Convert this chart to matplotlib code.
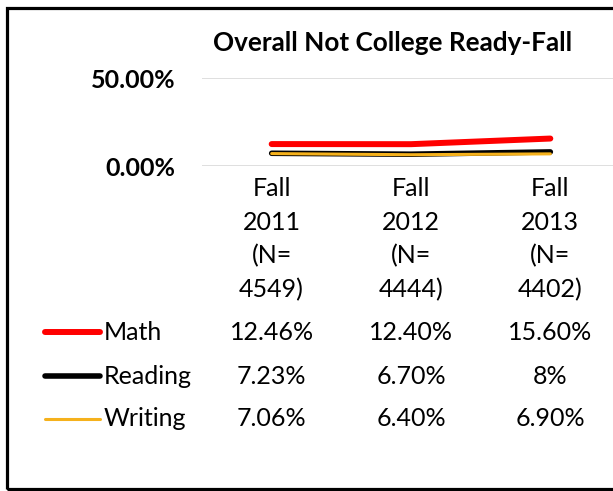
import matplotlib
matplotlib.use("Agg")
import matplotlib.pyplot as plt
from matplotlib.patches import Rectangle
from matplotlib.lines import Line2D
from matplotlib.transforms import blended_transform_factory

plt.rcParams['font.family'] = ['Lato', 'DejaVu Sans']

# ---- data ----
title = "Overall Not College Ready-Fall"
categories = ["Fall\n2011\n(N=\n4549)", "Fall\n2012\n(N=\n4444)", "Fall\n2013\n(N=\n4402)"]
series_names = ["Math", "Reading", "Writing"]
math = [0.1246, 0.1240, 0.1560]
reading = [0.0723, 0.0670, 0.08]
writing = [0.0706, 0.0640, 0.0690]
table_math = ["12.46%", "12.40%", "15.60%"]
table_reading = ["7.23%", "6.70%", "8%"]
table_writing = ["7.06%", "6.40%", "6.90%"]
yticks = [0.0, 0.5]
ytick_labels = ["0.00%", "50.00%"]

colors = {"Math": "#FF0000", "Reading": "#000000", "Writing": "#F5B11C"}
widths = {"Math": 4.3, "Reading": 4.0, "Writing": 2.2}

W, H = 613, 491
fig = plt.figure(figsize=(W / 100, H / 100), dpi=100)
FS = 18

def fy(py):
    return (H - py) / H

def fx(px):
    return px / W

# plot area
left_px, right_px, top_px, bot_px = 202, 620, 78, 166
ax = fig.add_axes([fx(left_px), fy(bot_px), fx(right_px - left_px), (bot_px - top_px) / H])
x = list(range(len(categories)))
ax.plot(x, math, color=colors["Math"], lw=widths["Math"], solid_capstyle='round', zorder=3)
ax.plot(x, reading, color=colors["Reading"], lw=widths["Reading"], solid_capstyle='round', zorder=3)
ax.plot(x, writing, color=colors["Writing"], lw=widths["Writing"], solid_capstyle='round', zorder=4)
ax.set_xlim(-0.5, len(categories) - 0.5)
ax.set_ylim(0, 0.5)
ax.set_yticks(yticks)
ax.set_yticklabels(ytick_labels, fontsize=FS, fontweight='bold')
ax.tick_params(axis='y', length=0, pad=19)
ax.set_xticks([])
ax.grid(axis='y', color='#D9D9D9', lw=1.2)
ax.set_axisbelow(True)
for s in ax.spines.values():
    s.set_visible(False)
ax.patch.set_alpha(0)

# title
fig.text(fx(393), fy(43), title, ha='center', va='center', fontsize=18.8, fontweight='bold')

# data table
tr = blended_transform_factory(ax.transData, fig.transFigure)
line_ys = [188, 222, 256, 290]
for i, cat in enumerate(categories):
    for j, part in enumerate(cat.split("\n")):
        fig.text(i, fy(line_ys[j]), part, transform=tr, ha='center', va='center', fontsize=FS)

row_ys = [332, 376, 419]
rows = [table_math, table_reading, table_writing]
for name, ry, vals in zip(series_names, row_ys, rows):
    fig.add_artist(Line2D([fx(45), fx(100)], [fy(ry), fy(ry)], color=colors[name],
                          lw=widths[name], solid_capstyle='round', transform=fig.transFigure))
    fig.text(fx(104), fy(ry), name, ha='left', va='center', fontsize=FS)
    for i, v in enumerate(vals):
        fig.text(i, fy(ry), v, transform=tr, ha='center', va='center', fontsize=FS)

# outer border
fig.add_artist(Rectangle((fx(6.5), fy(489)), fx(630), (489 - 7.5) / H, fill=False,
                         edgecolor='black', lw=2.3, transform=fig.transFigure, clip_on=False))

fig.savefig("out.png", dpi=100)
